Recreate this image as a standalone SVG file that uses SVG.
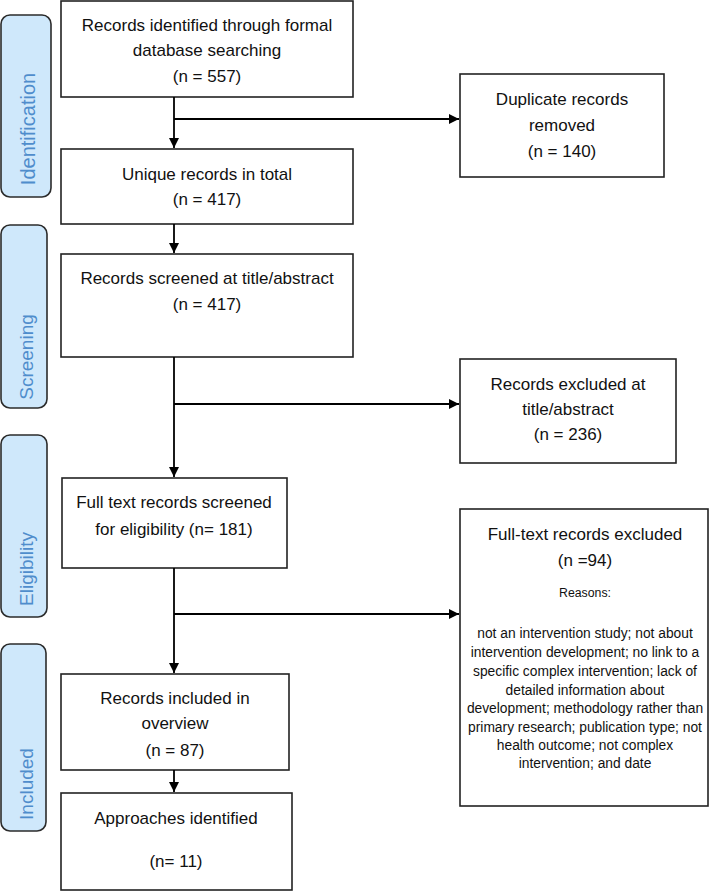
<svg xmlns="http://www.w3.org/2000/svg" width="710" height="892" viewBox="0 0 710 892">
<style>
.box{fill:#fff;stroke:#222;stroke-width:1.6}
.bar{fill:#cfe8fb;stroke:#2b2b2b;stroke-width:1.6}
.t{font-family:"Liberation Sans",Arial,sans-serif;font-size:17px;fill:#111;text-anchor:middle}
.s{font-family:"Liberation Sans",Arial,sans-serif;font-size:13.8px;fill:#111;text-anchor:middle}
.r{font-family:"Liberation Sans",Arial,sans-serif;font-size:12.3px;fill:#111;text-anchor:middle}
.lab{font-family:"Liberation Sans",Arial,sans-serif;font-size:19px;fill:#4f8dcc;text-anchor:middle}
.c{stroke:#000;stroke-width:1.8;fill:none}
</style>
<defs>
<marker id="ah" markerUnits="userSpaceOnUse" markerWidth="12" markerHeight="12" refX="10" refY="5" orient="auto">
<path d="M0,0 L10,5 L0,10 Z" fill="#000"/>
</marker>
</defs>

<g id="phase-identification">
<rect class="bar" x="1" y="15" width="50" height="182" rx="9"/>
<text class="lab" style="font-size:20px" transform="translate(35,129) rotate(-90)">Identification</text>
</g>
<g id="phase-screening">
<rect class="bar" x="1" y="225" width="46" height="183" rx="9"/>
<text class="lab" transform="translate(33,357) rotate(-90)">Screening</text>
</g>
<g id="phase-eligibility">
<rect class="bar" x="1" y="435" width="46" height="182" rx="9"/>
<text class="lab" transform="translate(33,569) rotate(-90)">Eligibility</text>
</g>
<g id="phase-included">
<rect class="bar" x="1" y="644" width="45" height="187" rx="9"/>
<text class="lab" transform="translate(33,784) rotate(-90)">Included</text>
</g>

<g id="n-identified">
<rect class="box" x="61" y="1" width="292" height="96"/>
<text class="t" x="207" y="31">Records identified through formal</text>
<text class="t" x="207" y="56">database searching</text>
<text class="t" x="207" y="82">(n = 557)</text>
</g>
<g id="n-duplicates">
<rect class="box" x="460" y="74" width="204" height="103"/>
<text class="t" x="562" y="105">Duplicate records</text>
<text class="t" x="562" y="131">removed</text>
<text class="t" x="562" y="157">(n = 140)</text>
</g>
<g id="n-unique">
<rect class="box" x="61" y="149" width="292" height="75"/>
<text class="t" x="207" y="180">Unique records in total</text>
<text class="t" x="207" y="205">(n = 417)</text>
</g>
<g id="n-screened">
<rect class="box" x="61" y="254" width="292" height="103"/>
<text class="t" x="207" y="284">Records screened at title/abstract</text>
<text class="t" x="207" y="310">(n = 417)</text>
</g>
<g id="n-excluded-ta">
<rect class="box" x="460" y="359" width="216" height="104"/>
<text class="t" x="568" y="390">Records excluded at</text>
<text class="t" x="568" y="415">title/abstract</text>
<text class="t" x="568" y="440">(n = 236)</text>
</g>
<g id="n-fulltext">
<rect class="box" x="62" y="478" width="225" height="90"/>
<text class="t" x="174" y="508">Full text records screened</text>
<text class="t" x="174" y="535">for eligibility (n= 181)</text>
</g>
<g id="n-excluded-ft">
<rect class="box" x="460" y="509" width="248" height="297"/>
<text class="t" x="585" y="540">Full-text records excluded</text>
<text class="t" x="585" y="566">(n =94)</text>
<text class="r" x="585" y="597">Reasons:</text>
<text class="s" x="585" y="638">not an intervention study; not about</text>
<text class="s" x="585" y="657">intervention development; no link to a</text>
<text class="s" x="585" y="676">specific complex intervention; lack of</text>
<text class="s" x="585" y="695">detailed information about</text>
<text class="s" x="585" y="713">development; methodology rather than</text>
<text class="s" x="585" y="732">primary research; publication type; not</text>
<text class="s" x="585" y="750">health outcome; not complex</text>
<text class="s" x="585" y="768">intervention; and date</text>
</g>
<g id="n-included">
<rect class="box" x="61" y="674" width="228" height="96"/>
<text class="t" x="175" y="704">Records included in</text>
<text class="t" x="175" y="729">overview</text>
<text class="t" x="175" y="756">(n = 87)</text>
</g>
<g id="n-approaches">
<rect class="box" x="61" y="793" width="231" height="97"/>
<text class="t" x="176" y="824">Approaches identified</text>
<text class="t" x="176" y="867">(n= 11)</text>
</g>

<g id="connectors">
<line class="c" x1="174" y1="97" x2="174" y2="148" marker-end="url(#ah)"/>
<line class="c" x1="174" y1="119" x2="459" y2="119" marker-end="url(#ah)"/>
<line class="c" x1="174" y1="224" x2="174" y2="253" marker-end="url(#ah)"/>
<line class="c" x1="174" y1="357" x2="174" y2="477" marker-end="url(#ah)"/>
<line class="c" x1="174" y1="404" x2="459" y2="404" marker-end="url(#ah)"/>
<line class="c" x1="174" y1="568" x2="174" y2="673" marker-end="url(#ah)"/>
<line class="c" x1="174" y1="614" x2="459" y2="614" marker-end="url(#ah)"/>
<line class="c" x1="174" y1="770" x2="174" y2="792" marker-end="url(#ah)"/>
</g>
</svg>
